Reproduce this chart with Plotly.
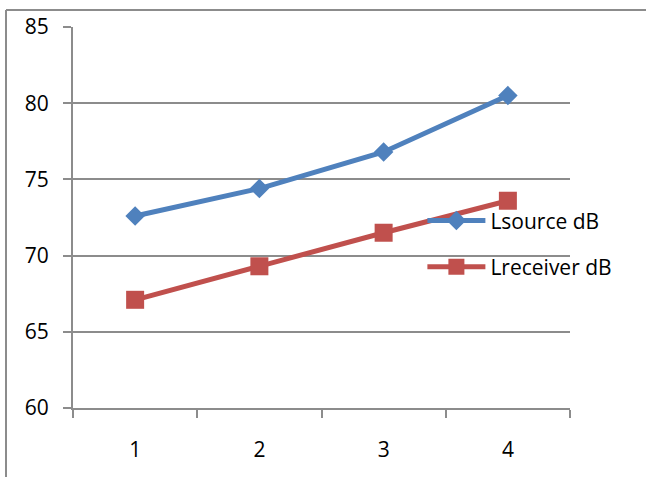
import plotly.graph_objects as go

# Measurement positions and levels
positions = [1, 2, 3, 4]
l_source = [72.6, 74.4, 76.8, 80.5]
l_receiver = [67.1, 69.3, 71.5, 73.6]
y_ticks = [60, 65, 70, 75, 80, 85]

BLUE = "#4F81BD"
RED = "#C0504D"
GRID = "#8C8C8C"
FONT = "Open Sans"

fig = go.Figure()
fig.add_trace(go.Scatter(
    x=positions, y=l_source, name="Lsource dB", mode="lines+markers",
    line=dict(color=BLUE, width=5),
    marker=dict(symbol="diamond", size=15, color=BLUE),
    legendgroup="a",
))
fig.add_trace(go.Scatter(
    x=positions, y=l_receiver, name="Lreceiver dB", mode="lines+markers",
    line=dict(color=RED, width=5),
    marker=dict(symbol="square", size=18, color=RED),
    legendgroup="b",
))

fig.update_layout(
    width=646, height=477,
    margin=dict(l=73, r=76, t=25, b=69),
    paper_bgcolor="white", plot_bgcolor="white",
    font=dict(family=FONT, size=21, color="black"),
    showlegend=True,
    legend=dict(
        x=0.703, y=0.545, xanchor="left", yanchor="top",
        bgcolor="rgba(0,0,0,0)", font=dict(size=21),
        traceorder="grouped", tracegroupgap=16,
        itemwidth=58,
    ),
    xaxis=dict(
        range=[0.5, 4.5], tickvals=positions, ticktext=[str(p) for p in positions],
        ticks="", showgrid=False, zeroline=False,
        showline=True, linecolor=GRID, linewidth=2,
        tickfont=dict(size=21), ticklabelstandoff=22,
        minor=dict(tickvals=[0.5, 1.5, 2.5, 3.5, 4.5], ticks="outside",
                   ticklen=8, tickcolor=GRID, tickwidth=2, showgrid=False),
    ),
    yaxis=dict(
        range=[60, 85], tickvals=y_ticks, ticks="outside", ticklen=8,
        tickcolor=GRID, tickwidth=2, showgrid=True, gridcolor=GRID, gridwidth=2,
        zeroline=False, showline=True, linecolor=GRID, linewidth=2,
        tickfont=dict(size=21), ticklabelstandoff=10,
    ),
)

# Chart frame (left and top edges)
fig.add_shape(type="line", xref="paper", yref="paper",
              x0=(6 - 73) / 497, x1=(660 - 73) / 497,
              y0=(408 - 8) / 383, y1=(408 - 8) / 383,
              line=dict(color=GRID, width=2))
fig.add_shape(type="line", xref="paper", yref="paper",
              x0=(6 - 73) / 497, x1=(6 - 73) / 497,
              y0=(408 - 8) / 383, y1=(408 - 490) / 383,
              line=dict(color=GRID, width=2))

fig.write_html("out.html")
